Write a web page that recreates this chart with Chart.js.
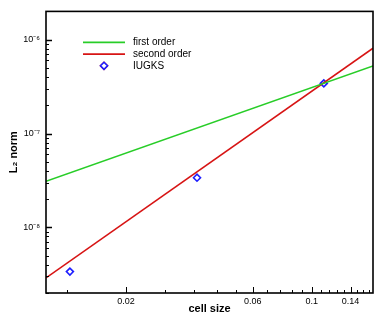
<!DOCTYPE html>
<html><head><meta charset="utf-8">
<script src="https://cdn.jsdelivr.net/npm/chart.js@4/dist/chart.umd.min.js"></script>
<style>html,body{margin:0;padding:0;background:#fff}#wrap{width:382px;height:319px}</style>
</head><body><div id="wrap"><canvas id="c" width="382" height="319"></canvas></div>
<script>
// ---- data ----
const cellSize = [0.0123, 0.037, 0.111];
const l2Norm = [3.38e-9, 3.38e-8, 3.42e-7];
const lineX = [0.01, 0.17];
const firstOrderY = [3.1e-8, 5.25e-7];
const secondOrderY = [2.9e-9, 8.1e-7];
const xMajorTicks = [0.02, 0.06, 0.1, 0.14];
const xMinorTicks = [0.012, 0.028, 0.036, 0.044, 0.052, 0.068, 0.076, 0.084, 0.092, 0.108, 0.116, 0.124, 0.132, 0.148, 0.156, 0.164];
const yDecades = [-9, -8, -7, -6];
const yLabels = {'-6': '10\u207B\u2076', '-7': '10\u207B\u2077', '-8': '10\u207B\u2078'};
const seriesNames = ['first order', 'second order', 'IUGKS'];
const xRange = [0.01, 0.17];
const yRange = [2e-9, 2e-6];

const GREEN = 'rgb(40,205,40)', RED = 'rgb(215,20,20)', BLUE = 'rgb(30,30,255)';
const FONT = "'Liberation Sans', Arial, Helvetica, sans-serif";

const pts = (xs, ys) => xs.map((x, i) => ({x, y: ys[i]}));

const frameAndTicks = {
  id: 'frameAndTicks',
  afterDraw(chart) {
    const ctx = chart.ctx, a = chart.chartArea;
    const xs = chart.scales.x, ys = chart.scales.y;
    ctx.save();
    ctx.strokeStyle = '#000';
    ctx.lineWidth = 1;
    xs.ticks.forEach(t => {
      const p = Math.round(xs.getPixelForValue(t.value)) + 0.5;
      const len = t.major ? 6 : 3;
      ctx.beginPath(); ctx.moveTo(p, a.bottom); ctx.lineTo(p, a.bottom - len); ctx.stroke();
    });
    ys.ticks.forEach(t => {
      const p = Math.round(ys.getPixelForValue(t.value)) + 0.5;
      const len = t.major ? 6 : 3;
      ctx.lineWidth = t.major ? 1.5 : 1;
      ctx.beginPath(); ctx.moveTo(a.left, p); ctx.lineTo(a.left + len, p); ctx.stroke();
    });
    ctx.lineWidth = 1.6;
    ctx.strokeRect(a.left, a.top, a.right - a.left, a.bottom - a.top);
    // legend inside the plot area
    const lx = a.left + 37, tx = a.left + 87;
    let ly = a.top + 31;
    ctx.font = '10px ' + FONT;
    ctx.textBaseline = 'middle';
    ctx.fillStyle = '#000';
    chart.data.datasets.forEach(ds => {
      if (ds.showLine) {
        ctx.strokeStyle = ds.borderColor; ctx.lineWidth = ds.borderWidth;
        ctx.beginPath(); ctx.moveTo(lx, ly); ctx.lineTo(lx + 42, ly); ctx.stroke();
      } else {
        Chart.helpers.drawPoint(ctx, {pointStyle: 'rectRot', radius: ds.pointRadius, borderWidth: ds.pointBorderWidth}, lx + 21, ly);
        ctx.strokeStyle = ds.pointBorderColor; ctx.lineWidth = ds.pointBorderWidth;
        ctx.fillStyle = '#fff';
        Chart.helpers.drawPoint(ctx, {pointStyle: 'rectRot', radius: ds.pointRadius, borderWidth: ds.pointBorderWidth}, lx + 21, ly);
        ctx.fillStyle = '#000';
      }
      ctx.fillText(ds.label, tx, ly);
      ly += 11.7;
    });
    ctx.restore();
  }
};

new Chart(document.getElementById('c'), {
  type: 'scatter',
  data: {
    datasets: [
      {label: seriesNames[0], data: pts(lineX, firstOrderY), showLine: true, borderColor: GREEN, borderWidth: 1.6, pointRadius: 0},
      {label: seriesNames[1], data: pts(lineX, secondOrderY), showLine: true, borderColor: RED, borderWidth: 1.6, pointRadius: 0},
      {label: seriesNames[2], data: pts(cellSize, l2Norm), showLine: false, pointStyle: 'rectRot', pointRadius: 3.5,
       pointBorderWidth: 1.6, pointBorderColor: BLUE, pointBackgroundColor: '#fff', borderColor: BLUE, backgroundColor: '#fff'}
    ]
  },
  options: {
    responsive: false, animation: false, devicePixelRatio: 1,
    layout: {padding: {left: 0, top: 7, right: 9, bottom: 0}},
    plugins: {legend: {display: false}, tooltip: {enabled: false}},
    scales: {
      x: {
        type: 'logarithmic', min: xRange[0], max: xRange[1],
        grid: {display: true, drawOnChartArea: false, drawTicks: false},
        border: {display: false},
        afterBuildTicks(s) {
          s.ticks = xMajorTicks.map(v => ({value: v, major: true}))
            .concat(xMinorTicks.map(v => ({value: v, major: false})))
            .sort((p, q) => p.value - q.value);
        },
        ticks: {
          autoSkip: false, maxRotation: 0, padding: 3, color: '#000',
          font: {family: FONT, size: 9},
          callback(v) { return xMajorTicks.includes(v) ? String(v) : ''; }
        },
        title: {display: true, text: 'cell size', color: '#000', font: {family: FONT, size: 11, weight: 'bold'}, padding: {top: 0, bottom: 3}},
        afterFit(s) { s.height = 26; }
      },
      y: {
        type: 'logarithmic', min: yRange[0], max: yRange[1],
        grid: {display: true, drawOnChartArea: false, drawTicks: false},
        border: {display: false},
        afterBuildTicks(s) {
          const arr = [];
          yDecades.forEach(e => {
            for (let m = 1; m <= 9; m++) {
              const v = Number((m + 'e' + e));
              if (v >= yRange[0] && v <= yRange[1]) arr.push({value: v, major: m === 1});
            }
          });
          s.ticks = arr;
        },
        ticks: {
          autoSkip: false, padding: 6, color: '#000',
          font: {family: FONT, size: 9},
          callback(v) {
            const e = Math.round(Math.log10(v));
            return Math.abs(v / Math.pow(10, e) - 1) < 1e-6 && yLabels[e] ? yLabels[e] : '';
          }
        },
        title: {display: true, text: 'L\u2082 norm', color: '#000', font: {family: FONT, size: 11, weight: 'bold'}, padding: {top: 7, bottom: 0}},
        afterFit(s) { s.width = 46; }
      }
    }
  },
  plugins: [frameAndTicks]
});
</script>
</body></html>
